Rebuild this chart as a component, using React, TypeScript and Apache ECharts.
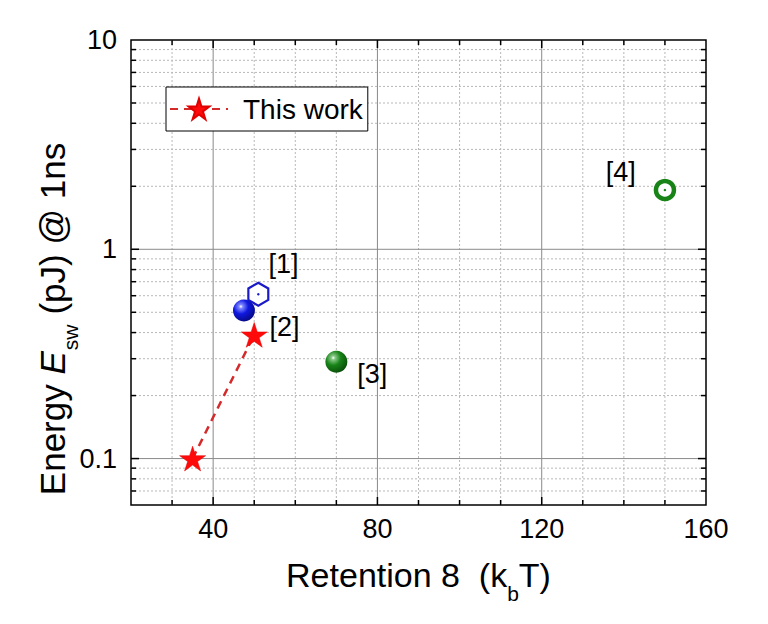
import React, { useEffect, useRef } from 'react';
import * as echarts from 'echarts';

// ---- data ----
const thisWorkRetention = [35, 50];
const thisWorkEnergy = [0.1, 0.39];
const ref1Hexagon: [number, number][] = [[51, 0.61]];
const ref1Sphere: [number, number][] = [[47.5, 0.51]];
const ref3Sphere: [number, number][] = [[70, 0.29]];
const ref4Ring: [number, number][] = [[150, 1.92]];
const refLabels = ['[1]', '[2]', '[3]', '[4]'];

// ---- axis ticks / grid ----
const xLabelValues = [40, 80, 120, 160];
const yLabelValues = [0.1, 1, 10];
const xMajorGrid = [40, 80, 120];
const xMinorGrid = [30, 50, 60, 70, 90, 100, 110, 130, 140, 150];
const yMajorGrid = [0.1, 1];
const yMinorGrid = [0.07, 0.08, 0.09, 0.2, 0.3, 0.4, 0.5, 0.6, 0.7, 0.8, 0.9, 2, 3, 4, 5, 6, 7, 8, 9];

const FONT = '"Liberation Sans", Arial, Helvetica, sans-serif';
const STAR =
  'path://M50 0 L61.23 34.55 L97.55 34.55 L68.16 55.9 L79.39 90.45 L50 69.1 L20.61 90.45 L31.84 55.9 L2.45 34.55 L38.77 34.55 Z';
const HEX = 'path://M0 -1 L0.866 -0.5 L0.866 0.5 L0 1 L-0.866 0.5 L-0.866 -0.5 Z';

function vLine(minor: boolean) {
  return (params: any, api: any) => {
    const cs = params.coordSys;
    const x = api.coord([api.value(0), api.value(1)])[0];
    const top = cs.y;
    const bottom = cs.y + cs.height;
    const tl = minor ? 5 : 8;
    return {
      type: 'group',
      children: [
        {
          type: 'line',
          shape: { x1: x, y1: top, x2: x, y2: bottom },
          style: minor
            ? { stroke: '#b8b8b8', lineWidth: 1, lineDash: [2, 2] }
            : { stroke: '#8a8a8a', lineWidth: 1 },
        },
        { type: 'line', shape: { x1: x, y1: bottom, x2: x, y2: bottom - tl }, style: { stroke: '#000', lineWidth: 1.5 } },
        { type: 'line', shape: { x1: x, y1: top, x2: x, y2: top + tl }, style: { stroke: '#000', lineWidth: 1.5 } },
      ],
    };
  };
}

function hLine(minor: boolean) {
  return (params: any, api: any) => {
    const cs = params.coordSys;
    const y = api.coord([api.value(0), api.value(1)])[1];
    const left = cs.x;
    const right = cs.x + cs.width;
    const tl = minor ? 5 : 8;
    return {
      type: 'group',
      children: [
        {
          type: 'line',
          shape: { x1: left, y1: y, x2: right, y2: y },
          style: minor
            ? { stroke: '#b8b8b8', lineWidth: 1, lineDash: [2, 2] }
            : { stroke: '#8a8a8a', lineWidth: 1 },
        },
        { type: 'line', shape: { x1: left, y1: y, x2: left + tl, y2: y }, style: { stroke: '#000', lineWidth: 1.5 } },
        { type: 'line', shape: { x1: right, y1: y, x2: right - tl, y2: y }, style: { stroke: '#000', lineWidth: 1.5 } },
      ],
    };
  };
}

const sphere = (hi: string, mid: string, dark: string) =>
  new echarts.graphic.RadialGradient(0.36, 0.32, 0.75, [
    { offset: 0, color: '#ffffff' },
    { offset: 0.12, color: hi },
    { offset: 0.45, color: mid },
    { offset: 1, color: dark },
  ]);

export default function App() {
  const ref = useRef<HTMLDivElement>(null);
  useEffect(() => {
    if (!ref.current) return;
    const chart = echarts.init(ref.current, null, { renderer: 'svg' });
    const labelStyle = { fontSize: 27, fontFamily: FONT, color: '#000', opacity: 1 };
    chart.setOption({
      animation: false,
      backgroundColor: '#fff',
      grid: {
        left: 131,
        right: 62,
        top: 40,
        bottom: 119,
        show: true,
        borderColor: '#000',
        borderWidth: 1.5,
        backgroundColor: '#fff',
      },
      legend: {
        data: ['This work'],
        left: 166,
        top: 87,
        padding: [8, 5, 8, 3],
        itemWidth: 58,
        itemHeight: 26,
        borderColor: '#000',
        borderWidth: 1,
        backgroundColor: '#fff',
        textStyle: { fontSize: 28, fontFamily: FONT, color: '#000', padding: [0, 0, 0, 10] },
      },
      xAxis: {
        type: 'value',
        min: 20,
        max: 160,
        interval: 20,
        axisLine: { show: false },
        axisTick: { show: false },
        splitLine: { show: false },
        axisLabel: {
          ...labelStyle,
          margin: 10,
          formatter: (v: number) => (xLabelValues.some((t) => Math.abs(t - v) < 1e-6) ? String(v) : ''),
        },
        name: '{n|Retention 8  (k}{s|b}{n|T)}',
        nameLocation: 'middle',
        nameGap: 50,
        nameTextStyle: {
          fontFamily: FONT,
          color: '#000',
          rich: {
            n: { fontSize: 34, fontFamily: FONT, color: '#000', lineHeight: 40 },
            s: { fontSize: 21, fontFamily: FONT, color: '#000', lineHeight: 22, verticalAlign: 'top', padding: [28, 0, 0, 0] },
          },
        },
      },
      yAxis: {
        type: 'log',
        logBase: 10,
        min: 0.06,
        max: 10,
        axisLine: { show: false },
        axisTick: { show: false },
        splitLine: { show: false },
        axisLabel: {
          ...labelStyle,
          margin: 14,
          formatter: (v: number) => {
            const hit = yLabelValues.find((t) => Math.abs(Math.log10(t) - Math.log10(v)) < 1e-6);
            return hit === undefined ? '' : String(hit);
          },
        },
      },
      graphic: [
        {
          type: 'text',
          x: 52,
          y: 319,
          rotation: Math.PI / 2,
          style: {
            text: '{n|Energy }{i|E}{s|sw}{n|(pJ) @ 1ns}',
            align: 'center',
            verticalAlign: 'middle',
            fill: '#000',
            fontFamily: FONT,
            rich: {
              n: { fontSize: 35, fontFamily: FONT, fill: '#000', lineHeight: 40 },
              i: { fontSize: 35, fontFamily: FONT, fill: '#000', fontStyle: 'italic', lineHeight: 40 },
              s: { fontSize: 21, fontFamily: FONT, fill: '#000', lineHeight: 22, verticalAlign: 'top', padding: [28, 10, 0, 1] },
            },
          },
        },
      ],
      series: [
        { type: 'custom', name: 'xMinor', renderItem: vLine(true), data: xMinorGrid.map((v) => [v, 1]), z: 1, silent: true },
        { type: 'custom', name: 'xMajor', renderItem: vLine(false), data: xMajorGrid.map((v) => [v, 1]), z: 1, silent: true },
        { type: 'custom', name: 'yMinor', renderItem: hLine(true), data: yMinorGrid.map((v) => [40, v]), z: 1, silent: true },
        { type: 'custom', name: 'yMajor', renderItem: hLine(false), data: yMajorGrid.map((v) => [40, v]), z: 1, silent: true },
        {
          type: 'line',
          name: 'This work',
          data: thisWorkRetention.map((x, i) => [x, thisWorkEnergy[i]]),
          symbol: STAR,
          symbolSize: 26,
          symbolKeepAspect: true,
          lineStyle: { color: '#d42a2a', width: 2.5, type: [8, 6] },
          itemStyle: { color: '#ff0a0a', borderColor: '#e00000', borderWidth: 0.5, opacity: 1 },
          z: 5,
          label: {
            show: true,
            position: 'right',
            offset: [-3, -8],
            ...labelStyle,
            formatter: (p: any) => (p.dataIndex === 1 ? refLabels[1] : ''),
          },
        },
        {
          type: 'scatter',
          name: 'ref1 hexagon',
          data: ref1Hexagon,
          symbol: HEX,
          symbolSize: 23,
          symbolKeepAspect: true,
          itemStyle: { color: '#fff', borderColor: '#1a1ac8', borderWidth: 2.2, opacity: 1 },
          z: 6,
          label: { show: true, position: 'right', offset: [-6, -30], ...labelStyle, formatter: refLabels[0] },
        },
        {
          type: 'scatter',
          name: 'ref1 hexagon dot',
          data: ref1Hexagon,
          symbol: 'circle',
          symbolSize: 2.5,
          itemStyle: { color: '#1a1ac8', opacity: 1 },
          z: 7,
        },
        {
          type: 'scatter',
          name: 'ref1 sphere',
          data: ref1Sphere,
          symbol: 'circle',
          symbolSize: 22,
          itemStyle: { color: sphere('#7f88ff', '#0f18e0', '#05087a'), opacity: 1 },
          z: 6,
        },
        {
          type: 'scatter',
          name: 'ref3 sphere',
          data: ref3Sphere,
          symbol: 'circle',
          symbolSize: 22,
          itemStyle: { color: sphere('#86c886', '#188418', '#084a08'), opacity: 1 },
          z: 6,
          label: { show: true, position: 'right', offset: [5, 12], ...labelStyle, formatter: refLabels[2] },
        },
        {
          type: 'scatter',
          name: 'ref4 ring',
          data: ref4Ring,
          symbol: 'circle',
          symbolSize: 18,
          itemStyle: { color: '#fff', borderColor: '#188418', borderWidth: 4.5, opacity: 1 },
          z: 6,
          label: { show: true, position: 'left', offset: [-13, -18], ...labelStyle, formatter: refLabels[3] },
        },
        {
          type: 'scatter',
          name: 'ref4 ring dot',
          data: ref4Ring,
          symbol: 'circle',
          symbolSize: 2.5,
          itemStyle: { color: '#188418', opacity: 1 },
          z: 7,
        },
      ],
    });
    return () => chart.dispose();
  }, []);
  return <div ref={ref} style={{ position: 'absolute', left: 0, top: 0, width: 768, height: 624 }} />;
}
